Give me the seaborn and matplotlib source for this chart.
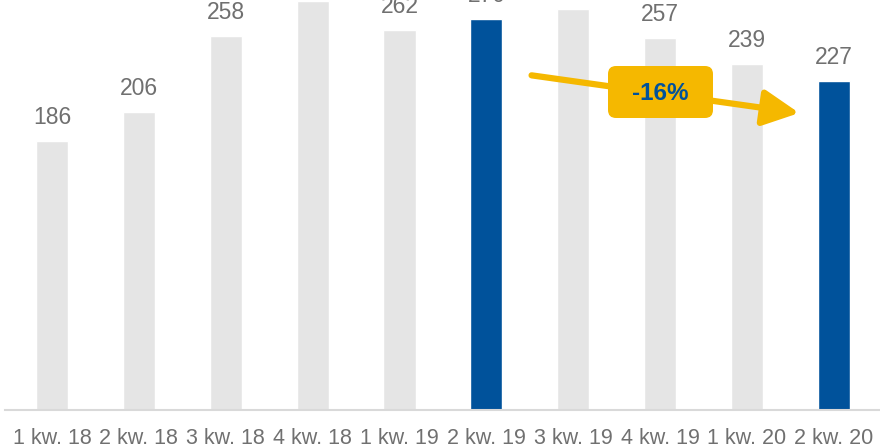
import numpy as np
import pandas as pd
import seaborn as sns
import matplotlib.pyplot as plt
from matplotlib.patches import FancyBboxPatch

# quarterly values
quarters = ["1 kw. 18", "2 kw. 18", "3 kw. 18", "4 kw. 18", "1 kw. 19",
            "2 kw. 19", "3 kw. 19", "4 kw. 19", "1 kw. 20", "2 kw. 20"]
values = [186, 206, 258, 282, 262, 270, 277, 257, 239, 227]
highlight = ["2 kw. 19", "2 kw. 20"]
change_label = "-16%"

GRAY = "#E5E5E5"
BLUE = "#00529B"
YELLOW = "#F5B800"
TEXT = "#707070"

sns.set_style("white")
plt.rcParams['font.family'] = ['Liberation Sans', 'DejaVu Sans']

df = pd.DataFrame({"quarter": quarters, "value": values})
colors = [BLUE if q in highlight else GRAY for q in quarters]

fig = plt.figure(figsize=(8.8, 4.48), dpi=100)
ax = fig.add_axes([5 / 880, 38 / 448, 875 / 880, 410 / 448])

sns.barplot(data=df, x="quarter", y="value", hue="quarter", palette=colors,
            legend=False, width=0.37, saturation=1, ax=ax)

ax.set_xlim(-0.54, 9.53)
ax.set_ylim(0, 283)

# value labels (the tallest ones fall off the top, as in the reference)
for i, v in enumerate(values):
    ax.annotate(str(v), (i, v), xytext=(0, 12.2), textcoords="offset points",
                ha="center", va="baseline", fontsize=16.5, color=TEXT,
                annotation_clip=False)

ax.set_xlabel("")
ax.set_ylabel("")
ax.set_yticks([])
ax.tick_params(axis="x", length=0, pad=13, labelsize=15.5, labelcolor=TEXT)
for s in ["top", "right", "left"]:
    ax.spines[s].set_visible(False)
ax.spines["bottom"].set_color("#D9D9D9")
ax.spines["bottom"].set_linewidth(1.5)

# trend arrow from 2 kw. 19 to 2 kw. 20
ax.annotate("", xy=(8.6, 205), xytext=(5.52, 231),
            arrowprops=dict(arrowstyle="-|>,head_length=1.0,head_width=0.5",
                            lw=4.5, color=YELLOW, mutation_scale=22,
                            shrinkA=0, shrinkB=0))

box = FancyBboxPatch((6.08, 3.30), 1.05, 0.52,
                     boxstyle="round,pad=0,rounding_size=0.08",
                     transform=fig.dpi_scale_trans, facecolor=YELLOW,
                     edgecolor="none", zorder=5)
fig.patches.append(box)
fig.text(660.5 / 880, 1 - 93 / 448, change_label, ha="center", va="center",
         fontsize=17.5, fontweight="bold", color=BLUE, zorder=6)

fig.savefig("out.png", dpi=100)
